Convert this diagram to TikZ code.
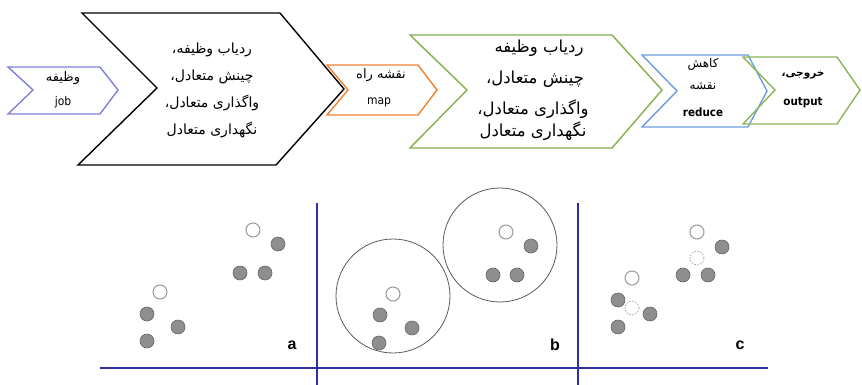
\documentclass[tikz,border=0pt]{standalone}
\usepackage{fontspec}
\setmainfont{DejaVu Sans}
\newfontfamily\arabicfont[Script=Arabic]{DejaVu Sans}
\newfontfamily\labfont{Liberation Sans}
\newfontfamily\condfont{DejaVu Sans Condensed}
\TeXXeTstate=1
\definecolor{jobc}{HTML}{7F80D8}
\definecolor{mapc}{HTML}{F0822E}
\definecolor{grnc}{HTML}{82B04A}
\definecolor{redc}{HTML}{6C9CE0}
\definecolor{outc}{HTML}{8DB458}
\definecolor{axisc}{HTML}{2E2E9E}
\definecolor{dotc}{HTML}{8E8E8E}
\tikzset{
  chev/.style={line width=1.4pt, line join=miter},
  pers/.style={inner sep=0pt, font=\arabicfont\fontsize{14}{16}\selectfont},
  persbig/.style={inner sep=0pt, font=\arabicfont\fontsize{16.5}{18}\selectfont},
  perssm/.style={inner sep=0pt, font=\arabicfont\fontsize{13}{15}\selectfont},
  persxs/.style={inner sep=0pt, font=\arabicfont\fontsize{12}{14}\selectfont},
  latin/.style={inner sep=0pt, font=\condfont\fontsize{12}{14}\selectfont},
  latinb/.style={inner sep=0pt, font=\condfont\bfseries\fontsize{11.5}{13}\selectfont},
  gdot/.style={circle, minimum size=14pt, inner sep=0pt, fill=dotc, draw=gray!80!black, line width=0.6pt},
  wdot/.style={circle, minimum size=14pt, inner sep=0pt, fill=white, draw=gray!80, line width=1pt},
  ddot/.style={circle, minimum size=14pt, inner sep=0pt, draw=gray!70, dashed, dash pattern=on 1.5pt off 1.5pt, line width=0.8pt},
  bigc/.style={circle, minimum size=114pt, inner sep=0pt, draw=gray!70!black, line width=0.8pt},
  axis/.style={draw=axisc, line width=1.6pt},
  panlab/.style={inner sep=0pt, font=\labfont\bfseries\fontsize{16}{18}\selectfont}
}
\begin{document}
\begin{tikzpicture}[x=1pt,y=-1pt]
\useasboundingbox (0,0) rectangle (862,385);
% chevrons
\draw[chev, draw=jobc] (8,67) -- (100,67) -- (118,90) -- (100,114) -- (8,114) -- (33,90) -- cycle;
\draw[chev, draw=black] (82,13) -- (280,13) -- (344,89) -- (276,165) -- (78,165) -- (157,88) -- cycle;
\draw[chev, draw=mapc] (327,65) -- (418,65) -- (437,90) -- (418,115) -- (327,115) -- (348,90) -- cycle;
\draw[chev, draw=grnc] (410,35) -- (612,35) -- (662,90) -- (612,148) -- (410,148) -- (467,90) -- cycle;
\draw[chev, draw=redc] (642,55) -- (748,55) -- (767,91) -- (748,127) -- (642,127) -- (677,91) -- cycle;
\draw[chev, draw=outc] (743,57) -- (837,57) -- (860,90) -- (837,124) -- (743,124) -- (775,90) -- cycle;
% texts
\node[perssm] (j1) at (63,78) {\beginR وظیفه\endR};
\node[latin] (j2) at (63,102) {job};
\node[pers] (k1) at (212,50) {\beginR ردیاب وظیفه،\endR};
\node[pers] (k2) at (212,77) {\beginR چینش متعادل،\endR};
\node[pers] (k3) at (212,103) {\beginR واگذاری متعادل،\endR};
\node[pers] (k4) at (212,130) {\beginR نگهداری متعادل\endR};
\node[perssm] (m1) at (381,75) {\beginR نقشه راه\endR};
\node[latin] (m2) at (379,102) {map};
\node[persbig] (g1) at (539,48) {\beginR ردیاب وظیفه\endR};
\node[persbig] (g2) at (535,79) {\beginR چینش متعادل،\endR};
\node[persbig] (g3) at (533,109) {\beginR واگذاری متعادل،\endR};
\node[persbig] (g4) at (533,131) {\beginR نگهداری متعادل\endR};
\node[persxs] (r1) at (703,64) {\beginR کاهش\endR};
\node[persxs] (r2) at (703,86) {\beginR نقشه\endR};
\node[latinb] (r3) at (703,112) {reduce};
\node[persxs, font=\arabicfont\bfseries\fontsize{10.5}{12}\selectfont] (o1) at (803,75) {\beginR خروجی،\endR};
\node[latinb] (o2) at (803,103) {output};
% axes
\coordinate (h1) at (100,368);
\coordinate (h2) at (768,368);
\coordinate (v1t) at (317,203);
\coordinate (v1b) at (317,385);
\coordinate (v2t) at (578,203);
\coordinate (v2b) at (578,385);
\draw[axis] (h1) -- (h2);
\draw[axis] (v1t) -- (v1b);
\draw[axis] (v2t) -- (v2b);
% panel a
\node[wdot] (a1) at (253,230) {};
\node[gdot] (a2) at (278,244) {};
\node[gdot] (a3) at (240,273) {};
\node[gdot] (a4) at (265,273) {};
\node[wdot] (a5) at (160,292) {};
\node[gdot] (a6) at (147,314) {};
\node[gdot] (a7) at (178,327) {};
\node[gdot] (a8) at (147,341) {};
\node[panlab] (la) at (292,345) {a};
% panel b
\node[bigc] (b0) at (393,296) {};
\node[bigc] (b9) at (500,245) {};
\node[wdot] (b1) at (393,294) {};
\node[gdot] (b2) at (380,315) {};
\node[gdot] (b3) at (412,328) {};
\node[gdot] (b4) at (379,343) {};
\node[wdot] (b5) at (506,232) {};
\node[gdot] (b6) at (531,246) {};
\node[gdot] (b7) at (493,275) {};
\node[gdot] (b8) at (517,275) {};
\node[panlab] (lb) at (555,345) {b};
% panel c
\node[wdot] (c1) at (697,232) {};
\node[gdot] (c2) at (722,247) {};
\node[ddot] (c3) at (697,258) {};
\node[gdot] (c4) at (683,275) {};
\node[gdot] (c5) at (708,275) {};
\node[wdot] (c6) at (632,278) {};
\node[gdot] (c7) at (618,300) {};
\node[ddot] (c8) at (632,308) {};
\node[gdot] (c9) at (650,314) {};
\node[gdot] (c10) at (618,327) {};
\node[panlab] (lc) at (740,345) {c};
\end{tikzpicture}
\end{document}
